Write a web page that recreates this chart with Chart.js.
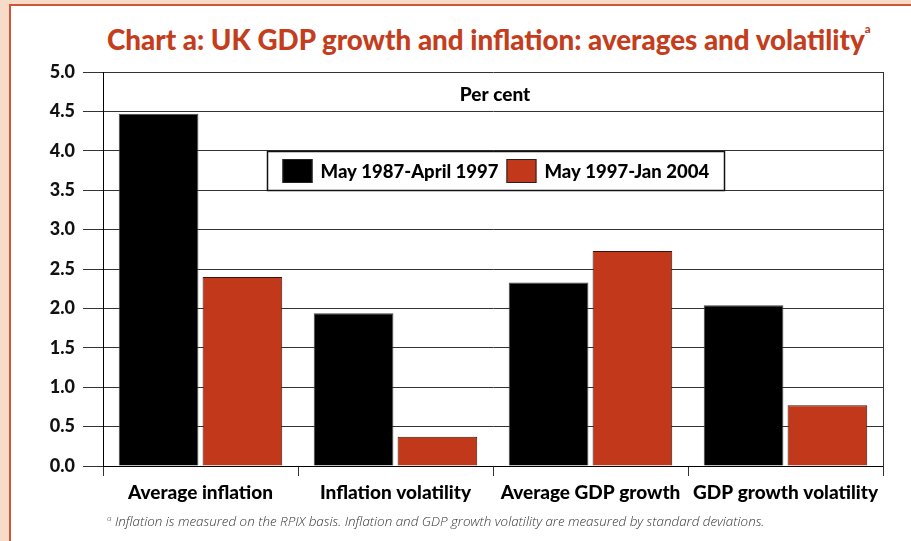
<!DOCTYPE html>
<html>
<head>
<meta charset="utf-8">
<script src="https://cdn.jsdelivr.net/npm/chart.js@4.4.1/dist/chart.umd.min.js"></script>
<style>
  html, body { margin: 0; padding: 0; }
  body { width: 911px; height: 541px; background: #f7dbc9; position: relative; overflow: hidden; }
  #panel { position: absolute; left: 9px; top: 4px; width: 940px; height: 580px; background: #fff; border-left: 2px solid #d2553a; border-top: 2px solid #d2553a; }
  #title { position: absolute; left: 107px; top: 21px; font-family: Lato, "Open Sans", sans-serif; font-weight: 900; font-size: 29px; color: #c43d1c; white-space: nowrap; transform-origin: 0 0; }
  #title sup { font-size: 12px; vertical-align: 17px; }
  #note { position: absolute; left: 107px; top: 512px; font-family: "Open Sans", sans-serif; font-style: italic; font-weight: 300; font-size: 13.4px; color: #333; white-space: nowrap; }
  #note sup { font-size: 8px; vertical-align: 5px; }
  canvas { position: absolute; left: 0; top: 0; }
</style>
</head>
<body>
<div id="panel"></div>
<div id="title">Chart a: UK GDP growth and inflation: averages and volatility<sup>a</sup></div>
<canvas id="c" width="911" height="541"></canvas>
<div id="note"><sup>a</sup> Inflation is measured on the RPIX basis. Inflation and GDP growth volatility are measured by standard deviations.</div>
<script>
// Categories and the two periods compared
const categories = ['Average inflation', 'Inflation volatility', 'Average GDP growth', 'GDP growth volatility'];
const seriesNames = ['May 1987-April 1997', 'May 1997-Jan 2004'];
const period1987to1997 = [4.47, 1.94, 2.33, 2.04];
const period1997to2004 = [2.40, 0.37, 2.73, 0.77];
const yTicks = [0.0, 0.5, 1.0, 1.5, 2.0, 2.5, 3.0, 3.5, 4.0, 4.5, 5.0];

const RED = '#c1391a';
const LATO = 'Lato, "Open Sans", sans-serif';

// Condense the heading so it spans the plot width
const titleEl = document.getElementById('title');
titleEl.style.transform = 'scaleX(' + (764 / titleEl.offsetWidth) + ')';

// Frame on the right, "Per cent" caption and the boxed legend
const extras = {
  id: 'extras',
  afterDraw(chart) {
    const ctx = chart.ctx;
    const a = chart.chartArea;
    ctx.save();
    ctx.strokeStyle = '#333';
    ctx.lineWidth = 1;
    ctx.beginPath();
    ctx.moveTo(a.right + 0.5, a.top);
    ctx.lineTo(a.right + 0.5, a.bottom + 10);
    ctx.stroke();

    const cx = (a.left + a.right) / 2 + 2;
    ctx.fillStyle = '#000';
    ctx.font = '900 19px ' + LATO;
    ctx.textAlign = 'center';
    ctx.textBaseline = 'middle';
    ctx.fillText('Per cent', cx, a.top + 23);

    // legend box
    ctx.font = '900 18.5px ' + LATO;
    const sw = 30, sh = 24, gapSwatch = 8, gapItems = 8, padX = 15;
    const widths = seriesNames.map(n => ctx.measureText(n).width);
    const boxW = Math.round(padX * 2 + sw * 2 + gapSwatch * 2 + widths[0] + widths[1] + gapItems);
    const boxH = 39;
    const bx = Math.round(cx - boxW / 2) + 0.5;
    const by = a.top + 79.5;
    ctx.fillStyle = '#fff';
    ctx.fillRect(bx, by, boxW, boxH);
    ctx.strokeStyle = '#111';
    ctx.lineWidth = 1.5;
    ctx.strokeRect(bx, by, boxW, boxH);
    const colors = ['#000', RED];
    let x = bx + padX;
    ctx.textAlign = 'left';
    for (let i = 0; i < 2; i++) {
      ctx.fillStyle = colors[i];
      ctx.fillRect(x, by + (boxH - sh) / 2, sw, sh);
      ctx.strokeStyle = '#222';
      ctx.lineWidth = 1;
      ctx.strokeRect(x + 0.5, by + (boxH - sh) / 2 + 0.5, sw - 1, sh - 1);
      x += sw + gapSwatch;
      ctx.fillStyle = '#000';
      ctx.fillText(seriesNames[i], x, by + boxH / 2 + 1);
      x += widths[i] + gapItems;
    }
    ctx.restore();
  }
};

new Chart(document.getElementById('c'), {
  type: 'bar',
  data: {
    labels: categories,
    datasets: [
      { label: seriesNames[0], data: period1987to1997, backgroundColor: '#000', borderColor: '#444', borderWidth: 1 },
      { label: seriesNames[1], data: period1997to2004, backgroundColor: RED, borderColor: '#3b1309', borderWidth: 1 }
    ]
  },
  options: {
    responsive: false,
    animation: false,
    devicePixelRatio: 1,
    categoryPercentage: 0.86,
    barPercentage: 0.95,
    layout: { padding: { left: 0, right: 28, top: 72, bottom: 0 } },
    plugins: { legend: { display: false }, tooltip: { enabled: false }, title: { display: false } },
    scales: {
      y: {
        min: 0, max: 5,
        afterBuildTicks(s) { s.ticks = yTicks.map(v => ({ value: v })); },
        afterFit(s) { s.width = 103; },
        ticks: {
          callback: v => Number(v).toFixed(1),
          font: { family: LATO, weight: '900', size: 18 },
          color: '#111',
          padding: 8
        },
        grid: { color: '#333', lineWidth: 1, tickLength: 20 },
        border: { display: true, color: '#000', width: 1 }
      },
      x: {
        afterFit(s) { s.height = 75; },
        grid: { display: true, drawOnChartArea: false, drawTicks: true, tickLength: 10, color: '#333', offset: true },
        border: { display: true, color: '#000', width: 1 },
        ticks: {
          font: { family: LATO, weight: '900', size: 19 },
          color: '#000',
          padding: 5,
          maxRotation: 0,
          autoSkip: false
        }
      }
    }
  },
  plugins: [extras]
});
</script>
</body>
</html>
